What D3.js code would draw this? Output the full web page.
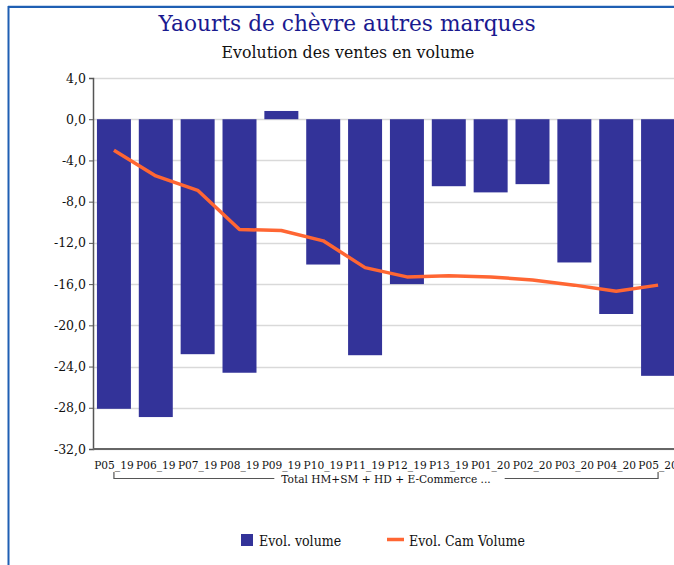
<!DOCTYPE html>
<html>
<head>
<meta charset="utf-8">
<script src="https://cdn.jsdelivr.net/npm/d3@7"></script>
<style>
  html, body { margin: 0; padding: 0; background: #fff; }
  svg { display: block; }
  .serif { font-family: "DejaVu Serif", "Liberation Serif", serif; }
  .cond { font-family: "DejaVu Serif", serif; font-stretch: condensed; }
</style>
</head>
<body>
<svg id="chart" width="674" height="565"></svg>
<script>
// Periods on the x axis
const periods = ["P05_19","P06_19","P07_19","P08_19","P09_19","P10_19","P11_19",
                 "P12_19","P13_19","P01_20","P02_20","P03_20","P04_20","P05_20"];
// Evol. volume (bars)
const evolVolume = [-28.1, -28.9, -22.8, -24.6, 0.8, -14.1, -22.9,
                    -16.0, -6.5, -7.1, -6.3, -13.9, -18.9, -24.9];
// Evol. Cam Volume (line)
const evolCamVolume = [-3.0, -5.5, -6.9, -10.7, -10.8, -11.8, -14.4,
                       -15.3, -15.2, -15.3, -15.6, -16.1, -16.7, -16.1];
// Y tick values
const yTicks = [4, 0, -4, -8, -12, -16, -20, -24, -28, -32];
const groupLabel = "Total HM+SM + HD + E-Commerce ...";
const titleText = "Yaourts de chèvre autres marques";
const subtitleText = "Evolution des ventes en volume";

const svg = d3.select("#chart");
const W = 674, H = 565;
const plot = { left: 93, right: 679, top: 78, bottom: 449 };

const fmt = v => d3.format(".1f")(v).replace(".", ",").replace("−", "-");

const x = d3.scaleBand().domain(periods).range([plot.left, plot.right])
  .paddingInner(0.188).paddingOuter(0.094);
const y = d3.scaleLinear().domain([-32, 4]).range([plot.bottom, plot.top]);

// Frame lines (top and left)
svg.append("line").attr("x1", 8).attr("x2", W).attr("y1", 5.5).attr("y2", 5.5)
  .attr("stroke", "#c9d9ee").attr("stroke-width", 1);
svg.append("line").attr("x1", 8).attr("x2", W).attr("y1", 7).attr("y2", 7)
  .attr("stroke", "#1f5fb3").attr("stroke-width", 2);
svg.append("line").attr("x1", 8.5).attr("x2", 8.5).attr("y1", 6).attr("y2", H)
  .attr("stroke", "#1f5fb3").attr("stroke-width", 2);

// Titles
svg.append("text").attr("class", "serif").attr("x", 347).attr("y", 31)
  .attr("text-anchor", "middle").attr("fill", "#1a1a8f").attr("font-size", 21.7)
  .text(titleText);
svg.append("text").attr("class", "cond").attr("x", 348).attr("y", 58)
  .attr("text-anchor", "middle").attr("fill", "#111").attr("font-size", 17.5)
  .text(subtitleText);

// Gridlines
svg.append("g").selectAll("line").data(yTicks).join("line")
  .attr("x1", plot.left).attr("x2", W)
  .attr("y1", d => Math.round(y(d)) + 0.5).attr("y2", d => Math.round(y(d)) + 0.5)
  .attr("stroke", "#d9d9d9").attr("stroke-width", 1.5);

// Y axis
const yAxis = svg.append("g").attr("transform", `translate(${plot.left},0)`)
  .call(d3.axisLeft(y).tickValues(yTicks).tickFormat(fmt).tickSize(4).tickPadding(3));
yAxis.select(".domain").attr("stroke", "#555").attr("stroke-width", 1.5);
yAxis.selectAll(".tick line").attr("stroke", "#555");
yAxis.selectAll("text").attr("class", "serif").attr("font-size", 12.5).attr("fill", "#111");

// Bars
svg.append("g").selectAll("rect").data(periods).join("rect")
  .attr("x", d => x(d))
  .attr("width", x.bandwidth())
  .attr("y", (d, i) => y(Math.max(0, evolVolume[i])))
  .attr("height", (d, i) => Math.abs(y(evolVolume[i]) - y(0)))
  .attr("fill", "#333399");

// Bottom axis line
svg.append("line").attr("x1", plot.left).attr("x2", W)
  .attr("y1", plot.bottom).attr("y2", plot.bottom)
  .attr("stroke", "#666").attr("stroke-width", 2);

// Line series
const line = d3.line()
  .x((d, i) => x(periods[i]) + x.bandwidth() / 2)
  .y(d => y(d));
svg.append("path").datum(evolCamVolume).attr("d", line)
  .attr("fill", "none").attr("stroke", "#ff6633").attr("stroke-width", 3.5)
  .attr("stroke-linejoin", "round");

// X labels
svg.append("g").selectAll("text").data(periods).join("text")
  .attr("class", "cond")
  .attr("x", d => x(d) + x.bandwidth() / 2).attr("y", 469)
  .attr("text-anchor", "middle").attr("font-size", 11.8).attr("fill", "#111")
  .text(d => d);

// Group bracket
const gx0 = x(periods[0]) + x.bandwidth() / 2;
const gx1 = x(periods[periods.length - 1]) + x.bandwidth() / 2;
const gmid = (gx0 + gx1) / 2;
const glabel = svg.append("text").attr("class", "cond")
  .attr("x", gmid).attr("y", 483).attr("text-anchor", "middle")
  .attr("font-size", 11.8).attr("fill", "#111").text(groupLabel);
const gw = glabel.node().getComputedTextLength();
const bracket = svg.append("g").attr("stroke", "#555").attr("stroke-width", 1.2).attr("fill", "none");
bracket.append("path").attr("d", `M${gx0},472V478.5H${gmid - gw / 2 - 7}`);
bracket.append("path").attr("d", `M${gmid + gw / 2 + 14},478.5H${gx1}V472`);

// Legend
const lg = svg.append("g");
lg.append("rect").attr("x", 241).attr("y", 534).attr("width", 12).attr("height", 12).attr("fill", "#333399");
lg.append("text").attr("class", "cond").attr("x", 259).attr("y", 545.5)
  .attr("font-size", 14).attr("fill", "#111").text("Evol. volume");
lg.append("line").attr("x1", 387).attr("x2", 404).attr("y1", 539.5).attr("y2", 539.5)
  .attr("stroke", "#ff6633").attr("stroke-width", 3.5);
lg.append("text").attr("class", "cond").attr("x", 409).attr("y", 545.5)
  .attr("font-size", 14).attr("fill", "#111").text("Evol. Cam Volume");
</script>
</body>
</html>
